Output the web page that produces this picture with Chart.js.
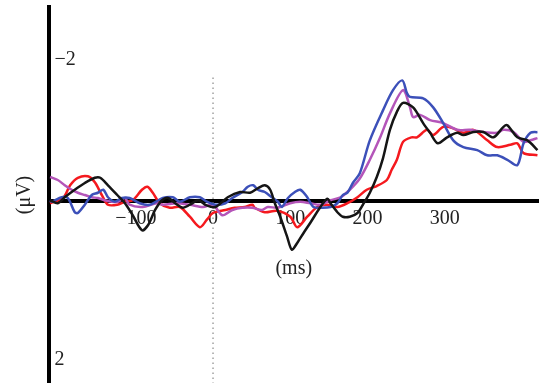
<!DOCTYPE html>
<html>
<head>
<meta charset="utf-8">
<script src="https://cdn.jsdelivr.net/npm/chart.js@4.4.1/dist/chart.umd.min.js"></script>
<style>
  body { margin: 0; background: #fff; }
  #wrap { width: 539px; height: 383px; position: relative; }
</style>
</head>
<body>
<div id="wrap"><canvas id="myChart"></canvas></div>
<script>
// tick labels
const xTickValues = [-100, 0, 100, 200, 300];
const xTickLabels = ['−100', '0', '100', '200', '300'];
const yTickValues = [-2, 2];
const yTickLabels = ['−2', '2'];

// visible window (ms / µV, negative up)
const xMin = -213, xMax = 422;
const yMin = -2.59, yMax = 2.43;

// stimulus onset marker
const onsetMs = [0, 0];
const onsetUv = [-1.65, 2.43];

// waveforms (ms, µV)
const blackMs = [-211,-201,-192,-179,-166,-153,-146,-136,-124,-114,-104,-92,-84,-75,-66,-58,-49,-39,-30,-19,-10,3,19,35,48,58,67,74,80,87,96,102,109,117,126,139,148,152,161,168,177,187,194,203,212,220,229,238,246,259,272,281,291,303,316,324,337,350,363,376,381,394,407,420];
const blackUv = [-0.01,0.03,-0.05,-0.15,-0.24,-0.31,-0.31,-0.21,-0.08,0.03,0.19,0.39,0.32,0.12,-0.01,-0.04,0.03,0.09,0.05,-0.01,0.05,0.08,-0.05,-0.12,-0.11,-0.17,-0.21,-0.15,0.03,0.21,0.48,0.65,0.56,0.43,0.29,0.08,-0.03,0.03,0.15,0.21,0.21,0.16,0.05,-0.11,-0.32,-0.57,-0.95,-1.19,-1.31,-1.25,-1.04,-0.91,-0.77,-0.85,-0.91,-0.88,-0.92,-0.92,-0.85,-0.99,-1.01,-0.85,-0.81,-0.68];

const blueMs = [-211,-209,-196,-188,-179,-175,-166,-157,-149,-142,-136,-127,-118,-108,-95,-82,-65,-52,-43,-30,-17,-8,3,16,25,38,45,52,58,67,76,84,89,97,106,113,122,130,142,152,161,168,174,181,190,203,220,233,245,251,255,272,285,298,311,324,342,355,368,381,394,402,411,420];
const blueUv = [-0.01,0.01,-0.05,-0.04,0.15,0.16,0.05,-0.08,-0.11,-0.15,-0.05,0.01,-0.04,-0.04,0.03,0.05,-0.04,-0.05,0.01,-0.05,-0.05,0.01,0.05,0.03,-0.04,-0.12,-0.19,-0.21,-0.15,-0.12,-0.05,0.01,0.08,-0.04,-0.12,-0.15,-0.05,0.08,0.09,0.08,0.03,-0.08,-0.11,-0.24,-0.37,-0.81,-1.21,-1.48,-1.61,-1.44,-1.39,-1.37,-1.25,-1.04,-0.81,-0.72,-0.68,-0.61,-0.61,-0.55,-0.48,-0.77,-0.91,-0.92];

const purpleMs = [-211,-201,-192,-183,-175,-166,-157,-149,-140,-131,-123,-114,-108,-91,-73,-65,-47,-30,-13,0,12,25,38,51,63,71,83,100,113,126,139,152,165,177,190,203,216,229,246,255,259,268,281,298,316,333,350,368,376,389,402,411,420];
const purpleUv = [-0.32,-0.28,-0.21,-0.15,-0.11,-0.08,-0.05,-0.04,-0.01,0.01,0.01,-0.04,0.05,0.08,0.03,0.05,0.03,0.05,0.08,0.05,0.19,0.12,0.09,0.09,0.12,0.08,0.09,0.03,0.01,0.03,0.05,-0.01,-0.05,-0.15,-0.3,-0.55,-0.84,-1.17,-1.48,-1.25,-1.12,-1.15,-1.08,-1.04,-0.95,-0.95,-0.92,-0.91,-0.95,-0.92,-0.79,-0.81,-0.84];

const redMs = [-211,-194,-185,-175,-162,-153,-144,-136,-124,-114,-104,-92,-85,-78,-69,-56,-43,-30,-17,-8,0,16,28,41,51,54,67,83,100,109,122,135,148,161,174,187,199,212,225,231,238,246,257,264,277,285,298,311,324,337,355,368,385,394,402,420];
const redUv = [0.03,-0.04,-0.21,-0.31,-0.33,-0.25,-0.08,0.05,0.05,0.01,-0.01,-0.15,-0.19,-0.11,0.03,0.09,0.08,0.21,0.35,0.25,0.16,0.12,0.09,0.08,0.05,0.09,0.15,0.13,0.21,0.35,0.21,0.08,0.05,0.08,0.03,-0.05,-0.15,-0.2,-0.28,-0.41,-0.55,-0.79,-0.85,-0.85,-0.95,-0.88,-0.99,-0.97,-0.91,-0.95,-0.81,-0.72,-0.75,-0.77,-0.64,-0.61];

const pts = (xs, ys) => xs.map((x, i) => ({ x: x, y: ys[i] }));
const wave = (label, xs, ys, color) => ({
  label: label,
  data: pts(xs, ys),
  borderColor: color,
  borderWidth: 2.5,
  pointRadius: 0,
  tension: 0.3,
  fill: false
});

const serif = { family: "'Liberation Serif', 'DejaVu Serif', serif", size: 20 };

const data = {
  datasets: [
    wave('black', blackMs, blackUv, '#151515'),
    wave('blue', blueMs, blueUv, 'rgb(60, 80, 185)'),
    wave('purple', purpleMs, purpleUv, 'rgb(180, 85, 185)'),
    wave('red', redMs, redUv, 'rgb(245, 25, 30)'),
    {
      label: 'onset',
      data: pts(onsetMs, onsetUv),
      borderColor: '#a0a0a0',
      borderWidth: 1.5,
      borderDash: [1.5, 3.5],
      pointRadius: 0
    }
  ]
};

const config = {
  type: 'line',
  data: data,
  options: {
    responsive: true,
    maintainAspectRatio: false,
    animation: false,
    layout: { padding: { top: 7, right: 0, bottom: 0, left: 0 } },
    plugins: { legend: { display: false }, tooltip: { enabled: false } },
    scales: {
      x: {
        type: 'linear',
        min: xMin,
        max: xMax,
        position: { y: 0 },
        grid: { display: false, drawTicks: false },
        border: { display: true, color: '#000', width: 4 },
        afterBuildTicks: (s) => { s.ticks = xTickValues.map(v => ({ value: v })); },
        ticks: {
          autoSkip: false,
          maxRotation: 0,
          padding: 6,
          color: '#222',
          font: serif,
          callback: (v) => xTickLabels[xTickValues.indexOf(v)]
        },
        title: { display: true, text: '(ms)', color: '#222', font: serif, padding: { top: 20, bottom: 0 } }
      },
      y: {
        type: 'linear',
        reverse: true,
        min: yMin,
        max: yMax,
        position: 'left',
        grid: { display: false, drawTicks: false },
        border: { display: true, color: '#000', width: 4 },
        afterBuildTicks: (s) => { s.ticks = yTickValues.map(v => ({ value: v })); },
        afterFit: (s) => { s.paddingTop = 0; s.paddingBottom = 0; },
        ticks: {
          mirror: true,
          padding: 6,
          labelOffset: 9,
          color: '#222',
          font: serif,
          callback: (v) => yTickLabels[yTickValues.indexOf(v)]
        },
        title: { display: true, text: '(μV)', color: '#222', font: serif, padding: { top: 12.5, bottom: 0 } }
      }
    }
  }
};

const chart = () => {
  const elem = new Chart(document.getElementById('myChart'), config);
  return elem;
};

chart();
</script>
</body>
</html>
